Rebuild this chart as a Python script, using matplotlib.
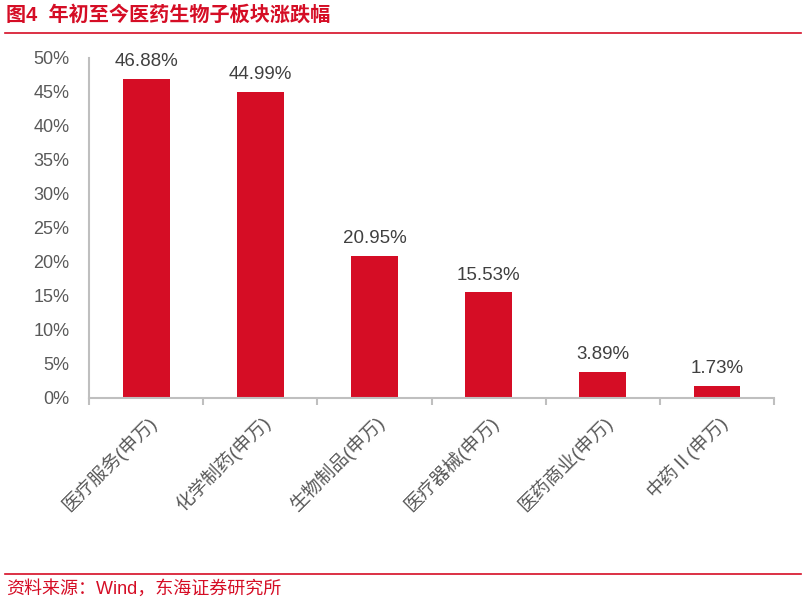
import matplotlib
matplotlib.use("Agg")
import matplotlib.pyplot as plt
import numpy as np
from matplotlib.ticker import PercentFormatter

plt.rcParams['font.family'] = ['Liberation Sans', 'Noto Sans CJK SC', 'DejaVu Sans']

categories = ['医疗服务(申万)', '化学制药(申万)', '生物制品(申万)', '医疗器械(申万)', '医药商业(申万)', '中药Ⅱ(申万)']
values = [46.88, 44.99, 20.95, 15.53, 3.89, 1.73]

red = '#D50D25'
gray = '#595959'
axis_gray = '#BFBFBF'

fig = plt.figure(figsize=(8.05, 6.02), dpi=100)
ax = fig.add_axes([0.1106, 0.3389, 0.8509, 0.5648])

x = np.arange(len(categories))
ax.bar(x, values, width=0.41, color=red, zorder=2)
for xi, v in zip(x, values):
    ax.text(xi, v + 1.3, '%.2f%%' % v, ha='center', va='bottom', fontsize=13.5, color='#404040')

ax.set_xlim(-0.5, len(categories) - 0.5)
ax.set_ylim(0, 50)
ax.set_yticks(np.arange(0, 51, 5))
ax.yaxis.set_major_formatter(PercentFormatter(decimals=0))
ax.tick_params(axis='y', length=0, labelsize=13, labelcolor=gray, pad=14)

ax.set_xticks(np.arange(-0.5, len(categories), 1))
ax.set_xticklabels([])
ax.set_xticks(x, minor=True)
ax.set_xticklabels(categories, minor=True, rotation=45, ha='right', rotation_mode='anchor',
                   fontsize=13.5, color=gray)
ax.tick_params(axis='x', which='major', length=5, color=axis_gray, width=1.5)
ax.tick_params(axis='x', which='minor', length=0, pad=10)

for s in ['top', 'right']:
    ax.spines[s].set_visible(False)
for s in ['left', 'bottom']:
    ax.spines[s].set_color(axis_gray)
    ax.spines[s].set_linewidth(1.5)

# header and footer
fig.text(0.008, 0.975, '图4  年初至今医药生物子板块涨跌幅', ha='left', va='center',
         fontsize=14.5, fontweight='bold', color=red)
fig.add_artist(plt.Line2D([0.006, 0.995], [0.945, 0.945], color=red, lw=1.2))
fig.add_artist(plt.Line2D([0.006, 0.995], [0.046, 0.046], color=red, lw=1.2))
fig.text(0.008, 0.022, '资料来源：Wind，东海证券研究所', ha='left', va='center',
         fontsize=13, color=red)

fig.savefig('out.png', dpi=100)
